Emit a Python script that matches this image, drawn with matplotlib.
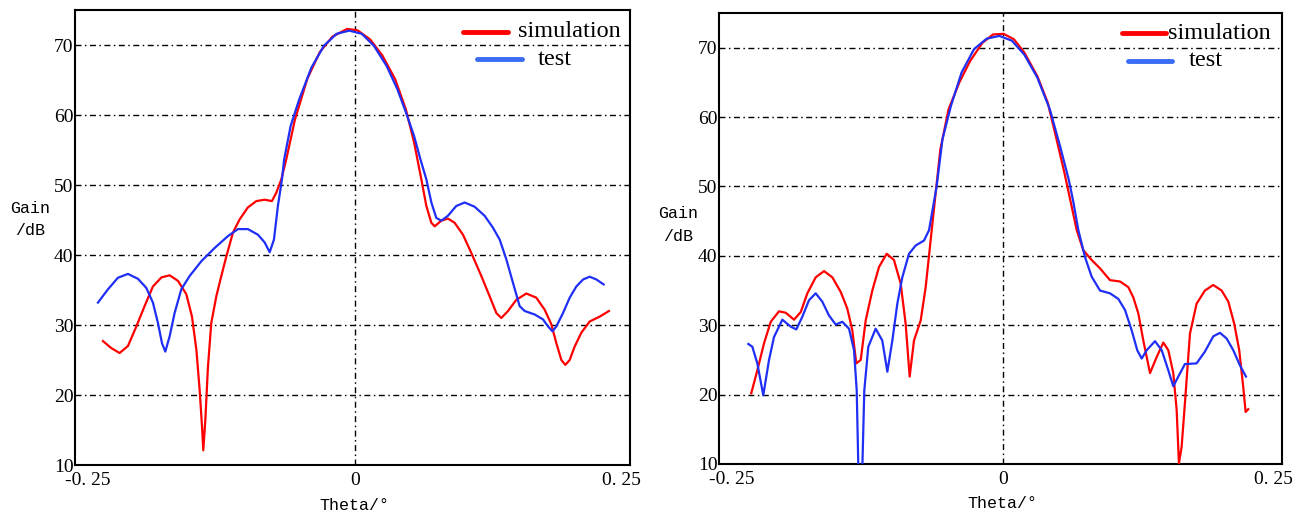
import matplotlib
matplotlib.use("Agg")
import matplotlib.pyplot as plt
from matplotlib.lines import Line2D

# ---------------- data ----------------
# Left panel
left_sim_theta = [-0.2358, -0.228, -0.2202, -0.2124, -0.2045, -0.1968, -0.189, -0.181, -0.1733,
                  -0.1655, -0.1577, -0.1524, -0.1483, -0.1452, -0.143, -0.1418, -0.1399, -0.1374,
                  -0.1343, -0.1296, -0.1249, -0.1202, -0.114, -0.1077, -0.100, -0.0921, -0.0843,
                  -0.0775, -0.0734, -0.0687, -0.064, -0.056, -0.0443, -0.0326, -0.0208, -0.007,
                  0.0027, 0.0145, 0.026, 0.038, 0.048, 0.0557, 0.0625, 0.0672, 0.0719, 0.075,
                  0.0812, 0.0874, 0.0937, 0.1015, 0.1093, 0.1187, 0.1265, 0.1328, 0.1374,
                  0.1437, 0.1515, 0.1609, 0.1702, 0.178, 0.1843, 0.189, 0.1937, 0.1974, 0.2015,
                  0.2061, 0.2124, 0.2202, 0.2296, 0.2383]
left_sim_gain = [27.7, 26.7, 26.0, 27.0, 29.8, 32.7, 35.5, 36.8, 37.1,
                 36.3, 34.4, 31.2, 26.5, 20.7, 15.5, 12.1, 16.4, 24.1,
                 30.3, 34.1, 37.0, 39.8, 43.2, 45.1, 46.8, 47.7, 47.9,
                 47.7, 48.9, 50.8, 53.7, 59.3, 65.2, 69.0, 71.2, 72.3,
                 72.1, 70.8, 68.5, 65.1, 60.8, 56.1, 50.8, 47.0, 44.6, 44.1,
                 44.9, 45.2, 44.6, 42.9, 40.3, 37.0, 34.1, 31.7, 31.0,
                 32.0, 33.6, 34.5, 33.9, 32.2, 30.1, 27.4, 25.0, 24.3, 25.0,
                 26.9, 28.9, 30.5, 31.2, 32.0]

left_test_theta = [-0.2405, -0.2311, -0.2218, -0.2124, -0.203, -0.1952, -0.189, -0.1843, -0.1805,
                   -0.1774, -0.1733, -0.1687, -0.1624, -0.1546, -0.1437, -0.1312, -0.1187, -0.1093,
                   -0.100, -0.0906, -0.0843, -0.0796, -0.0756, -0.0719, -0.0681, -0.066, -0.060,
                   -0.052, -0.0404, -0.0287, -0.0169, -0.005, 0.0067, 0.018, 0.030, 0.040, 0.048,
                   0.0557, 0.0616, 0.0672, 0.0719, 0.0765, 0.0812, 0.0874, 0.0952, 0.1031,
                   0.1124, 0.1218, 0.1296, 0.1359, 0.1421, 0.1484, 0.1546, 0.1593, 0.1687,
                   0.1765, 0.1812, 0.1853, 0.189, 0.1952, 0.2015, 0.2077, 0.214, 0.2202, 0.2265,
                   0.2333]
left_test_gain = [33.2, 35.1, 36.75, 37.3, 36.6, 35.3, 33.2, 30.3, 27.4,
                  26.2, 28.4, 31.7, 35.1, 37.0, 39.1, 41.0, 42.7, 43.7,
                  43.7, 42.9, 41.8, 40.4, 42.2, 47.0, 50.8, 53.7, 58.4,
                  62.2, 66.8, 69.9, 71.6, 72.05, 71.6, 69.9, 67.0, 63.7, 60.4,
                  57.0, 53.7, 50.8, 47.5, 45.3, 44.9, 45.6, 47.0, 47.5,
                  46.9, 45.6, 43.9, 42.2, 39.4, 36.0, 32.7, 32.0, 31.5,
                  30.8, 29.8, 29.1, 29.8, 31.7, 33.9, 35.5, 36.5, 36.9, 36.5,
                  35.8]

# Right panel
right_sim_theta = [-0.2322, -0.2266, -0.2204, -0.2142, -0.2066, -0.2004, -0.1927, -0.1865, -0.1804,
                   -0.1727, -0.165, -0.1573, -0.1496, -0.1435, -0.1389, -0.1352, -0.1311, -0.1265,
                   -0.1204, -0.1142, -0.1071, -0.1004, -0.0942, -0.0896, -0.0859, -0.0819, -0.0757,
                   -0.0711, -0.065, -0.0576, -0.050, -0.040, -0.030, -0.0187, -0.009, 0.0008,
                   0.0105, 0.020, 0.032, 0.0416, 0.049, 0.057, 0.0625, 0.0684, 0.0745, 0.0822,
                   0.0899, 0.0991, 0.1084, 0.116, 0.1207, 0.1253, 0.1299, 0.1361, 0.1422, 0.1484,
                   0.153, 0.1576, 0.1607, 0.1628, 0.1653, 0.1683, 0.173, 0.1791, 0.1868, 0.1945,
                   0.2022, 0.2084, 0.2139, 0.2185, 0.2222, 0.2244, 0.2268]
right_sim_gain = [20.2, 23.5, 27.4, 30.5, 32.0, 31.8, 30.8, 31.9, 34.6,
                  36.9, 37.8, 36.9, 34.8, 32.4, 29.3, 24.5, 25.0, 30.7,
                  35.0, 38.4, 40.3, 39.4, 36.0, 30.2, 22.6, 27.8, 30.7,
                  35.5, 44.5, 55.3, 61.1, 65.0, 68.1, 70.7, 71.9, 72.0,
                  71.2, 69.3, 65.9, 62.1, 57.3, 52.0, 48.0, 43.7, 40.8, 39.4,
                  38.2, 36.5, 36.3, 35.5, 34.0, 31.7, 27.8, 23.1, 25.4, 27.5,
                  26.4, 23.1, 17.8, 10.1, 12.5, 18.7, 28.8, 33.1, 35.0, 35.8,
                  35.0, 33.4, 30.2, 26.4, 21.1, 17.5, 17.9]

right_test_theta = [-0.2349, -0.2312, -0.2266, -0.2211, -0.2158, -0.2112, -0.2035, -0.1958, -0.1906,
                    -0.1851, -0.1789, -0.1727, -0.1666, -0.1604, -0.1542, -0.1481, -0.1419, -0.1373,
                    -0.1348, -0.1333, -0.1296, -0.1278, -0.1241, -0.1173, -0.1112, -0.1065, -0.1019,
                    -0.0973, -0.0927, -0.0865, -0.0803, -0.0727, -0.068, -0.061, -0.0556, -0.0478,
                    -0.038, -0.0264, -0.0148, -0.003, 0.0086, 0.020, 0.032, 0.0436, 0.053, 0.061,
                    0.0650, 0.0699, 0.0761, 0.0822, 0.0899, 0.0991, 0.1068, 0.113, 0.1191, 0.1243,
                    0.1284, 0.133, 0.1407, 0.1469, 0.153, 0.1576, 0.1622, 0.1683, 0.1791, 0.1868,
                    0.1945, 0.2007, 0.2068, 0.213, 0.2192, 0.2247]
right_test_gain = [27.3, 26.9, 24.5, 19.9, 25.0, 28.3, 30.8, 29.8, 29.4,
                   31.2, 33.6, 34.6, 33.4, 31.4, 30.1, 30.5, 29.5, 26.4,
                   20.6, 9.5, 9.5, 20.6, 26.9, 29.5, 27.8, 23.3, 27.8,
                   33.1, 36.9, 40.3, 41.5, 42.2, 43.7, 50.0, 56.8, 61.6,
                   66.4, 69.8, 71.3, 71.7, 71.0, 69.0, 65.7, 61.1, 55.8, 51.0,
                   48.0, 43.7, 39.8, 37.0, 35.0, 34.6, 33.8, 32.2, 29.3, 26.4,
                   25.2, 26.4, 27.7, 26.4, 23.5, 21.2, 22.6, 24.4, 24.5, 26.2,
                   28.4, 28.9, 28.1, 26.4, 24.2, 22.6]

y_ticks = [10, 20, 30, 40, 50, 60, 70]
x_ticks = [-0.25, 0, 0.25]
x_tick_labels = ["-0. 25", "0", "0. 25"]
legend_labels = ["simulation", "test"]
x_label = "Theta/°"
y_label = "Gain\n/dB"

# ---------------- styling ----------------
RED = "#ff0000"
BLUE = "#1f2ff5"
LEG_BLUE = "#3a6cf5"
GRID_DASH = (0, (4.3, 2.5, 1.1, 2.5))

fig = plt.figure(figsize=(13.09, 5.2), dpi=100)
fig.patch.set_facecolor("white")

W, H = 1309, 520
panels = [
    dict(box=(75, 10, 630, 465), sim=(left_sim_theta, left_sim_gain),
         test=(left_test_theta, left_test_gain),
         leg=dict(r=(0.699, 0.780, 0.952), s=0.798, b=(0.724, 0.805, 0.892), t=0.834),
         ylab=(-0.081, 0.54)),
    dict(box=(719, 13, 1282, 464), sim=(right_sim_theta, right_sim_gain),
         test=(right_test_theta, right_test_gain),
         leg=dict(r=(0.715, 0.794, 0.955), s=0.797, b=(0.726, 0.805, 0.894), t=0.835),
         ylab=(-0.073, 0.53)),
]

for p in panels:
    x0, y0, x1, y1 = p["box"]
    ax = fig.add_axes([x0 / W, 1 - y1 / H, (x1 - x0) / W, (y1 - y0) / H])
    ax.set_xlim(-0.262, 0.258)
    ax.set_ylim(10, 75)

    # grid: horizontal dash-dot lines, and a vertical one at 0
    for yv in y_ticks[1:]:
        ax.axhline(yv, color="black", lw=1.0, ls=GRID_DASH, zorder=1)
    ax.axvline(0, color="black", lw=1.0, ls=GRID_DASH, zorder=1)

    ax.plot(*p["sim"], color=RED, lw=1.6, zorder=3, solid_joinstyle="round")
    ax.plot(*p["test"], color=BLUE, lw=1.6, zorder=4, solid_joinstyle="round")

    for s in ax.spines.values():
        s.set_linewidth(1.5)
        s.set_color("black")

    ax.set_yticks(y_ticks)
    ax.set_yticklabels([str(v) for v in y_ticks], family="Liberation Serif", fontsize=14)
    ax.set_xticks(x_ticks)
    ax.set_xticklabels(x_tick_labels, family="Liberation Serif", fontsize=14)
    ax.tick_params(axis="y", length=0, pad=1)
    ax.tick_params(axis="x", length=0, pad=5)

    ax.set_xlabel(x_label, family="Liberation Mono", fontsize=12)
    ax.xaxis.label.set_va("center")
    ax.xaxis.set_label_coords((0 + 0.262) / 0.52, -0.088)
    ax.text(p["ylab"][0], p["ylab"][1], y_label, transform=ax.transAxes,
            family="Liberation Mono", fontsize=12, ha="center", va="center",
            multialignment="center", linespacing=1.6)

    lg = p["leg"]
    ax.add_line(Line2D([lg["r"][0], lg["r"][1]], [lg["r"][2], lg["r"][2]],
                       transform=ax.transAxes, color=RED, lw=3.5,
                       solid_capstyle="round", clip_on=False, zorder=5))
    ax.text(lg["s"], lg["r"][2], legend_labels[0], transform=ax.transAxes,
            family="Liberation Serif", fontsize=17.5, va="center", ha="left",
            clip_on=False, zorder=5)
    ax.add_line(Line2D([lg["b"][0], lg["b"][1]], [lg["b"][2], lg["b"][2]],
                       transform=ax.transAxes, color=LEG_BLUE, lw=3.5,
                       solid_capstyle="round", clip_on=False, zorder=5))
    ax.text(lg["t"], lg["b"][2], legend_labels[1], transform=ax.transAxes,
            family="Liberation Serif", fontsize=17.5, va="center", ha="left",
            clip_on=False, zorder=5)

fig.savefig("out.png", dpi=100, facecolor="white")
